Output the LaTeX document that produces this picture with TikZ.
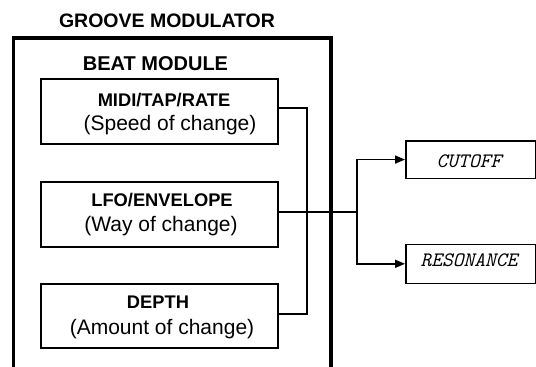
\documentclass[tikz,border=0pt]{standalone}
\usepackage{fontspec}
\setmainfont{Liberation Sans}
\usetikzlibrary{arrows.meta}
\begin{document}
\begin{tikzpicture}[x=1pt,y=-1pt,
  innerbox/.style={draw,line width=1.6pt,inner sep=0pt,anchor=north west},
  outbox/.style={draw,line width=1.6pt,inner sep=0pt,anchor=north west},
  conn/.style={line width=1.6pt},
  arr/.style={line width=1.6pt,-{Triangle[length=10pt,width=8pt]}},
  ttl/.style={anchor=base,inner sep=0pt,font=\fontsize{19.5}{20}\selectfont\bfseries},
  hd/.style={anchor=base,inner sep=0pt,font=\fontsize{18.3}{20}\selectfont\bfseries},
  sub/.style={anchor=base,inner sep=0pt,font=\fontsize{21}{22}\selectfont},
  outlbl/.style={anchor=base,inner sep=0pt,font=\fontsize{20.5}{22}\selectfont\ttfamily\itshape}]
\useasboundingbox (0,0) rectangle (536,367);
% outer module frame (open at bottom)
\draw[line width=3.5pt] (13.5,367) -- (13.5,38) -- (331,38) -- (331,367);
\node[ttl] (title) at (167,27) {GROOVE MODULATOR};
\node[ttl,font=\fontsize{20}{20}\selectfont\bfseries] (beat) at (155.5,70.7) {BEAT MODULE};
% inner boxes
\node[innerbox,minimum width=237pt,minimum height=65pt] (rate) at (40,78) {};
\node[innerbox,minimum width=237pt,minimum height=65pt] (lfo) at (40,181) {};
\node[innerbox,minimum width=237pt,minimum height=64pt] (depth) at (40,283) {};
\node[hd] (rateh) at (164,106) {MIDI/TAP/RATE};
\node[sub] (rates) at (170,130) {(Speed of change)};
\node[hd] (lfoh) at (162,206.7) {LFO/ENVELOPE};
\node[sub] (lfos) at (161,231) {(Way of change)};
\node[hd] (depthh) at (158,308) {DEPTH};
\node[sub] (depths) at (162,334) {(Amount of change)};
% output boxes
\node[outbox,minimum width=130pt,minimum height=37.5pt] (cut) at (405,140) {};
\node[outbox,minimum width=130pt,minimum height=39pt] (res) at (405,243.5) {};
\node[outlbl] (cutl) at (469,167) {CUTOFF};
\node[outlbl] (resl) at (469,266.7) {RESONANCE};
% connectors
\coordinate (j1) at (307,108);
\coordinate (j2) at (307,314);
\coordinate (br) at (357,212);
\draw[conn] (rate.east |- j1) -- (j1) -- (j2) -- (depth.east |- j2);
\draw[conn] (lfo.east |- br) -- (br);
\draw[arr] (br) |- (cut.west);
\draw[arr] (br) |- (res.west);
\end{tikzpicture}
\end{document}
